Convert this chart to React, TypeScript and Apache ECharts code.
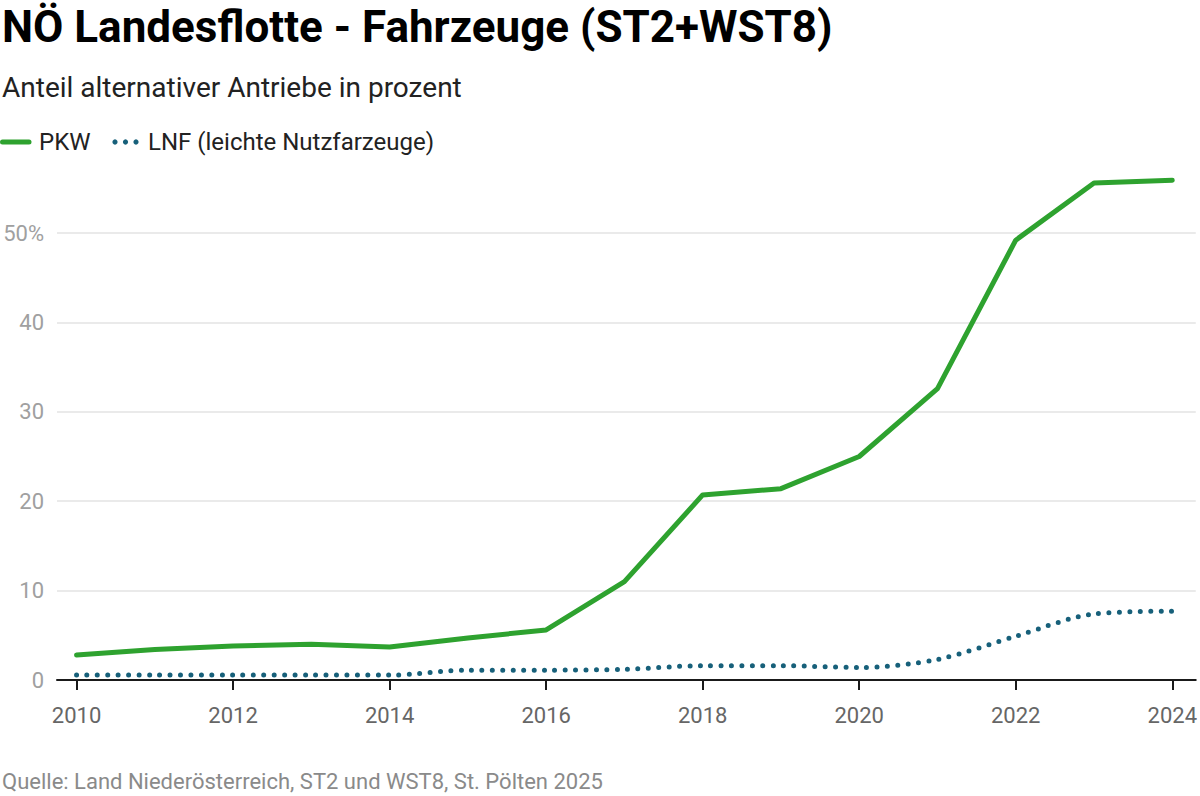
import React, { useEffect, useRef } from "react";
import * as echarts from "echarts";

const years = [2010, 2011, 2012, 2013, 2014, 2015, 2016, 2017, 2018, 2019, 2020, 2021, 2022, 2023, 2024];
const pkw = [2.8, 3.4, 3.8, 4.0, 3.7, 4.7, 5.6, 11.0, 20.7, 21.4, 25.0, 32.6, 49.2, 55.6, 55.9];
const lnf = [0.55, 0.55, 0.55, 0.55, 0.55, 1.1, 1.1, 1.2, 1.6, 1.6, 1.4, 2.3, 4.9, 7.4, 7.7];
const xTicks = [2010, 2012, 2014, 2016, 2018, 2020, 2022, 2024];

const title = "NÖ Landesflotte - Fahrzeuge (ST2+WST8)";
const subtitle = "Anteil alternativer Antriebe in prozent";
const source = "Quelle: Land Niederösterreich, ST2 und WST8, St. Pölten 2025";
const seriesNames = ["PKW", "LNF (leichte Nutzfarzeuge)"];

const GREEN = "#2ea22f";
const TEAL = "#17607a";
const FONT = "Roboto, 'Noto Sans', sans-serif";

export default function App() {
  const ref = useRef<HTMLDivElement>(null);
  useEffect(() => {
    document.body.style.margin = "0";
    const chart = echarts.init(ref.current!, null, { renderer: "svg" });
    chart.setOption({
      animation: false,
      backgroundColor: "#ffffff",
      textStyle: { fontFamily: FONT },
      grid: { left: 57, right: 3, top: 143.6, bottom: 116 },
      xAxis: {
        type: "value",
        min: 2009.75,
        max: 2024.3,
        axisLine: { show: true, lineStyle: { color: "#1a1a1a", width: 2 } },
        axisTick: { show: true, customValues: xTicks, length: 10, lineStyle: { color: "#1a1a1a", width: 2 } },
        axisLabel: {
          customValues: xTicks,
          color: "#666666",
          fontSize: 22,
          fontFamily: FONT,
          margin: 24,
          formatter: (v: number) => String(v),
        },
        splitLine: { show: false },
      },
      yAxis: {
        type: "value",
        min: 0,
        max: 60,
        interval: 10,
        axisLine: { show: false },
        axisTick: { show: false },
        axisLabel: {
          showMaxLabel: false,
          color: "#a0a0a0",
          fontSize: 22,
          fontFamily: FONT,
          margin: 13,
          formatter: (v: number) => (v === 50 ? "50%" : String(v)),
        },
        splitLine: { show: true, showMaxLine: false, lineStyle: { color: "#e3e3e3", width: 1.5 } },
      },
      series: [
        {
          name: seriesNames[0],
          type: "line",
          data: years.map((y, i) => [y, pkw[i]]),
          showSymbol: false,
          symbol: "none",
          lineStyle: { color: GREEN, width: 5, cap: "round", join: "round" },
          z: 3,
        },
        {
          name: seriesNames[1],
          type: "line",
          data: years.map((y, i) => [y, lnf[i]]),
          showSymbol: false,
          symbol: "none",
          smooth: 0.3,
          lineStyle: { color: TEAL, width: 5, type: [0, 10.4], cap: "round" },
          z: 2,
        },
      ],
      graphic: [
        {
          type: "text",
          x: 2,
          y: 27,
          style: { text: title, fill: "#000000", font: `bold 44px ${FONT}`, verticalAlign: "middle" },
        },
        {
          type: "text",
          x: 2,
          y: 87,
          style: { text: subtitle, fill: "#222222", font: `28px ${FONT}`, verticalAlign: "middle" },
        },
        {
          type: "line",
          shape: { x1: 2.5, y1: 142, x2: 29, y2: 142 },
          style: { stroke: GREEN, lineWidth: 5, lineCap: "round" },
        },
        {
          type: "text",
          x: 39,
          y: 142,
          style: { text: seriesNames[0], fill: "#222222", font: `24px ${FONT}`, verticalAlign: "middle" },
        },
        { type: "circle", shape: { cx: 115, cy: 142, r: 2.6 }, style: { fill: TEAL } },
        { type: "circle", shape: { cx: 125.5, cy: 142, r: 2.6 }, style: { fill: TEAL } },
        { type: "circle", shape: { cx: 136, cy: 142, r: 2.6 }, style: { fill: TEAL } },
        {
          type: "text",
          x: 148,
          y: 142,
          style: { text: seriesNames[1], fill: "#222222", font: `24px ${FONT}`, verticalAlign: "middle" },
        },
        {
          type: "text",
          x: 2,
          y: 781,
          style: { text: source, fill: "#8a8a8a", font: `22px ${FONT}`, verticalAlign: "middle" },
        },
      ],
    });
    return () => chart.dispose();
  }, []);
  return <div ref={ref} style={{ width: 1200, height: 796 }} />;
}
